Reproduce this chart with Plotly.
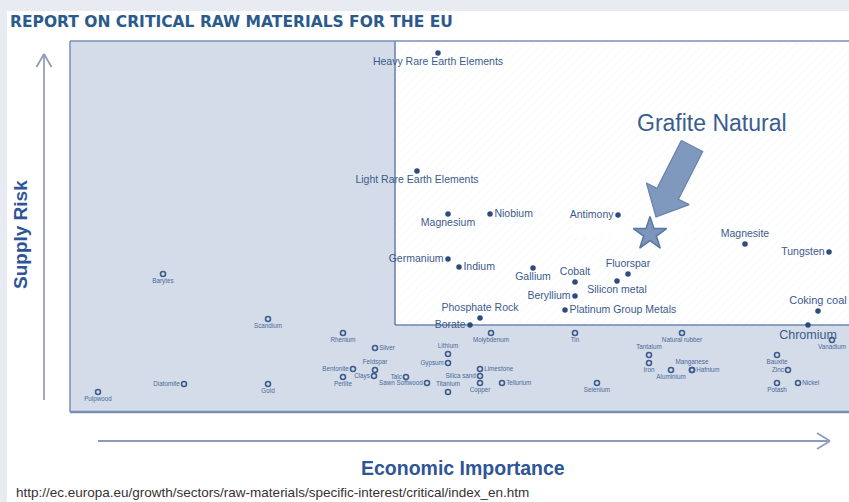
import numpy as np
import plotly.graph_objects as go

# ---------------- data (Economic Importance, Supply Risk) ----------------
crit_names = ["Heavy Rare Earth Elements", "Light Rare Earth Elements", "Magnesium", "Niobium",
              "Antimony", "Germanium", "Indium", "Gallium", "Cobalt", "Fluorspar", "Silicon metal",
              "Beryllium", "Platinum Group Metals", "Phosphate Rock", "Borate", "Magnesite",
              "Tungsten", "Coking coal", "Chromium"]
crit_econ = [3.68, 3.47, 3.78, 4.20, 5.48, 3.78, 3.89, 4.63, 5.05, 5.58, 5.47,
             5.05, 4.95, 4.10, 4.00, 6.75, 7.59, 7.48, 7.38]
crit_risk = [3.59, 2.41, 1.98, 1.98, 1.97, 1.53, 1.45, 1.44, 1.30, 1.38, 1.31,
             1.16, 1.02, 0.94, 0.87, 1.68, 1.60, 1.01, 0.87]
crit_pos = ["bottom center", "bottom center", "bottom center", "middle right", "middle left",
            "middle left", "middle right", "bottom center", "top center", "top center",
            "bottom center", "middle left", "middle right", "top center", "middle left",
            "top center", "middle left", "top center", "bottom center"]

non_names = ["Barytes", "Scandium", "Pulpwood", "Diatomite", "Gold", "Rhenium", "Silver",
             "Feldspar", "Bentonite", "Perlite", "Clays", "Talc", "Sawn Softwood", "Lithium",
             "Gypsum", "Titanium", "Molybdenum", "Limestone", "Silica sand", "Copper",
             "Tellurium", "Tin", "Selenium", "Natural rubber", "Tantalum", "Iron", "Aluminium",
             "Manganese", "Hafnium", "Bauxite", "Zinc", "Potash", "Nickel", "Vanadium"]
non_econ = [0.93, 1.98, 0.28, 1.14, 1.98, 2.73, 3.05, 3.05, 2.83, 2.73, 3.04, 3.36, 3.57, 3.78,
            3.78, 3.78, 4.21, 4.10, 4.10, 4.10, 4.32, 5.05, 5.27, 6.12, 5.79, 5.79, 6.01,
            6.22, 6.22, 7.07, 7.18, 7.07, 7.28, 7.62]
non_risk = [1.38, 0.93, 0.20, 0.28, 0.28, 0.79, 0.64, 0.42, 0.43, 0.35, 0.36, 0.35, 0.29, 0.58,
            0.49, 0.20, 0.79, 0.43, 0.36, 0.29, 0.29, 0.79, 0.29, 0.79, 0.57, 0.49, 0.42,
            0.42, 0.42, 0.57, 0.42, 0.29, 0.29, 0.72]
non_pos = ["bottom center", "bottom center", "bottom center", "middle left", "bottom center",
           "bottom center", "middle right", "top center", "middle left", "bottom center",
           "middle left", "middle left", "middle left", "top center", "middle left",
           "top center", "bottom center", "middle right", "middle left", "bottom center",
           "middle right", "bottom center", "bottom center", "bottom center", "top center",
           "bottom center", "bottom center", "top center", "middle right", "bottom center",
           "middle left", "bottom center", "middle right", "bottom center"]

star_name = "Grafite Natural"
star_econ = 5.80
star_risk = 1.78

econ_threshold = 3.25
risk_threshold = 0.87

X_MAX = 7.79
Y_MAX = 3.71

# ---------------- layout geometry ----------------
W, H = 849, 502
ML, MR, MT, MB = 70, 0, 41, 90
PW = W - ML - MR
PH = H - MT - MB
PXU = PW / X_MAX  # pixels per unit


def px(xp):
    return (xp - ML) / PW


def py(yp):
    return (H - MB - yp) / PH


BLUE_TXT = "#3d5b8c"
BLUE_DARK = "#2d4b7c"
TITLE_C = "#2b5a8c"
AXIS_T = "#2e5596"

fig = go.Figure()

# critical zone with hatch
fig.add_trace(go.Scatter(
    x=[econ_threshold, X_MAX + 1, X_MAX + 1, econ_threshold, econ_threshold],
    y=[risk_threshold, risk_threshold, Y_MAX + 1, Y_MAX + 1, risk_threshold],
    mode="lines", fill="toself",
    fillpattern=dict(shape="/", fgcolor="#dde3eb", bgcolor="white", size=6, solidity=0.12),
    line=dict(color="#6f88ad", width=1.6), hoverinfo="skip", showlegend=False))

# faint white patch near the star
fig.add_trace(go.Scatter(
    x=[5.03, 6.20, 6.20, 5.03, 5.03], y=[1.74, 1.74, 1.88, 1.88, 1.74],
    mode="lines", fill="toself", fillcolor="white", line=dict(width=0),
    hoverinfo="skip", showlegend=False))

# non-critical materials
fig.add_trace(go.Scatter(
    x=non_econ, y=non_risk, text=non_names, mode="markers+text", textposition=non_pos,
    marker=dict(symbol="circle-open", size=5, color="#3f5c8c", line=dict(width=1.6, color="#3f5c8c")),
    textfont=dict(family="Liberation Sans, Arial, sans-serif", size=6.3, color="#4b6a99"),
    cliponaxis=False, showlegend=False))

# critical materials
sizes = [10.5] * len(crit_names)
sizes[crit_names.index("Chromium")] = 12.5
sizes[crit_names.index("Coking coal")] = 11
fig.add_trace(go.Scatter(
    x=crit_econ, y=crit_risk, text=crit_names, mode="markers+text", textposition=crit_pos,
    marker=dict(symbol="circle", size=5.5, color=BLUE_DARK),
    textfont=dict(family="Liberation Sans, Arial, sans-serif", size=sizes, color=BLUE_TXT),
    cliponaxis=False, showlegend=False))

# block arrow pointing at the star (geometry in pixels relative to star)
sx, sy = star_econ, star_risk
tip = np.array([6.0, -17.0])
tail = np.array([42.0, -88.0])
d = (tip - tail) / np.linalg.norm(tip - tail)
n = np.array([d[1], -d[0]])
hl, hw, sw = 26.0, 24.0, 12.0
neck = tip - d * hl
pts = [tail - n * sw, neck - n * sw, neck - n * hw, tip, neck + n * hw, neck + n * sw, tail + n * sw,
       tail - n * sw]
ax_ = [sx + p[0] / PXU for p in pts]
ay_ = [sy - p[1] / PXU for p in pts]
fig.add_trace(go.Scatter(x=ax_, y=ay_, mode="lines", fill="toself", fillcolor="#7f98be",
                         line=dict(color="#6882ab", width=1.2), hoverinfo="skip", showlegend=False))

# star
fig.add_trace(go.Scatter(
    x=[star_econ], y=[star_risk], mode="markers",
    marker=dict(symbol="star", size=25, color="#7b95bd", line=dict(color="#5a76a3", width=1.5)),
    cliponaxis=False, showlegend=False))

shapes = []
BG = "#e8ecf2"
# gray strips of page
shapes.append(dict(type="rect", xref="paper", yref="paper", x0=px(0), x1=px(W), y0=py(11), y1=py(0),
                   fillcolor=BG, line=dict(width=0), layer="above"))
shapes.append(dict(type="rect", xref="paper", yref="paper", x0=px(0), x1=px(7), y0=py(H), y1=py(0),
                   fillcolor=BG, line=dict(width=0), layer="above"))
# plot border
BORDER = "#7690b4"
shapes.append(dict(type="line", xref="paper", yref="paper", x0=px(ML), x1=px(ML), y0=py(MT), y1=py(H - MB),
                   line=dict(color=BORDER, width=1.5), layer="above"))
shapes.append(dict(type="line", xref="paper", yref="paper", x0=px(ML), x1=px(W), y0=py(MT), y1=py(MT),
                   line=dict(color=BORDER, width=1.5), layer="above"))
shapes.append(dict(type="line", xref="paper", yref="paper", x0=px(ML), x1=px(W), y0=py(H - MB), y1=py(H - MB),
                   line=dict(color=BORDER, width=2.5), layer="above"))
# Y arrow
ARW = "#8f9dba"
shapes.append(dict(type="line", xref="paper", yref="paper", x0=px(44), x1=px(44), y0=py(400), y1=py(55),
                   line=dict(color="#a0abbd", width=2)))
shapes.append(dict(type="line", xref="paper", yref="paper", x0=px(36.5), x1=px(44), y0=py(67), y1=py(54),
                   line=dict(color=ARW, width=1.8)))
shapes.append(dict(type="line", xref="paper", yref="paper", x0=px(51.5), x1=px(44), y0=py(67), y1=py(54),
                   line=dict(color=ARW, width=1.8)))
# X arrow
shapes.append(dict(type="line", xref="paper", yref="paper", x0=px(98), x1=px(830), y0=py(441), y1=py(441),
                   line=dict(color="#8c9ac0", width=2)))
shapes.append(dict(type="line", xref="paper", yref="paper", x0=px(817), x1=px(830), y0=py(433), y1=py(441),
                   line=dict(color=ARW, width=1.8)))
shapes.append(dict(type="line", xref="paper", yref="paper", x0=px(817), x1=px(830), y0=py(449), y1=py(441),
                   line=dict(color=ARW, width=1.8)))

annotations = [
    dict(text="<b>REPORT ON CRITICAL RAW MATERIALS FOR THE EU</b>", xref="paper", yref="paper",
         x=px(8), y=py(22), xanchor="left", yanchor="middle", showarrow=False,
         font=dict(family="DejaVu Sans, Verdana, sans-serif", size=15.5, color=TITLE_C)),
    dict(text="<b>Supply Risk</b>", xref="paper", yref="paper", x=px(20), y=py(235), textangle=-90,
         xanchor="center", yanchor="middle", showarrow=False,
         font=dict(family="Liberation Sans, Arial, sans-serif", size=19, color=AXIS_T)),
    dict(text="<b>Economic Importance</b>", xref="paper", yref="paper", x=px(463), y=py(468),
         xanchor="center", yanchor="middle", showarrow=False,
         font=dict(family="Liberation Sans, Arial, sans-serif", size=19.5, color=AXIS_T)),
    dict(text=star_name, xref="x", yref="y", x=star_econ + 0.62, y=star_risk + 1.11,
         xanchor="center", yanchor="middle", showarrow=False,
         font=dict(family="Liberation Sans, Arial, sans-serif", size=23, color="#3a5d8f")),
    dict(text="http://ec.europa.eu/growth/sectors/raw-materials/specific-interest/critical/index_en.htm",
         xref="paper", yref="paper", x=px(14), y=py(493), xanchor="left", yanchor="middle",
         showarrow=False, font=dict(family="Liberation Sans, Arial, sans-serif", size=13.5, color="#333333")),
]

fig.update_layout(
    width=W, height=H,
    margin=dict(l=ML, r=MR, t=MT, b=MB),
    paper_bgcolor="white", plot_bgcolor="#d3dce8",
    xaxis=dict(range=[0, X_MAX], visible=False, fixedrange=True),
    yaxis=dict(range=[0, Y_MAX], visible=False, fixedrange=True),
    shapes=shapes, annotations=annotations, showlegend=False,
)

fig.write_html("out.html", config={"displayModeBar": False},
               post_script="document.body.style.margin='0';document.body.style.overflow='hidden';")
